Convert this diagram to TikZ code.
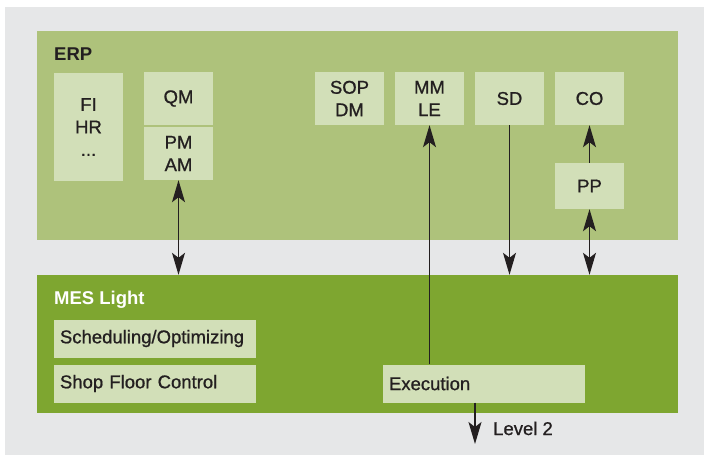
\documentclass[tikz,border=0pt]{standalone}
\usepackage{fontspec}
\setmainfont{Liberation Sans}
\newfontfamily\medfont[FakeBold=0.9]{Liberation Sans}
\usetikzlibrary{arrows.meta,calc}

\definecolor{bggray}{HTML}{E6E7E8}
\definecolor{erpgreen}{HTML}{AEC27B}
\definecolor{mesgreen}{HTML}{7EA630}
\definecolor{modfill}{HTML}{D2DFB8}
\definecolor{ink}{HTML}{231F20}

\tikzset{
  layer/.style={draw=none, inner sep=0pt},
  module/.style={fill=modfill, draw=none, inner sep=0pt, align=center,
    font=\medfont\fontsize{18.5}{22.5}\selectfont, text=ink},
  modwide/.style={fill=modfill, draw=none, inner xsep=6pt, inner ysep=0pt,
    minimum height=38pt, align=left,
    font=\medfont\fontsize{18.5}{22.5}\selectfont, text=ink},
  title/.style={inner sep=0pt, anchor=base west,
    font=\fontsize{18.5}{22}\selectfont\bfseries},
  tip/.tip={Stealth[length=22pt,width=13pt,inset=5pt]},
  flow/.style={line width=1.2pt, draw=ink, -tip},
  flowboth/.style={line width=1.2pt, draw=ink, tip-tip}
}

\begin{document}
\begin{tikzpicture}[x=1pt,y=-1pt]
  \useasboundingbox (0,0) rectangle (704,455);
  \fill[bggray] (5,7) rectangle (704,455);

  % the two layers
  \node[layer, fill=erpgreen, minimum width=641pt, minimum height=209pt] (erp) at (357.5,135.5) {};
  \node[layer, fill=mesgreen, minimum width=641pt, minimum height=138pt] (mes) at (357.5,344) {};
  \node[title, text=ink] (erpt) at (54,60) {ERP};
  \node[title, text=white] (mest) at (54,304) {MES Light};

  % ERP modules
  \node[module, minimum width=69pt, minimum height=108pt] (fihr) at (88.5,127) {FI\\HR\\...};
  \node[module, minimum width=69pt, minimum height=53pt] (qm) at (178.5,98.5) {QM};
  \node[module, minimum width=69pt, minimum height=53pt] (pmam) at (178.5,153.5) {PM\\AM};
  \node[module, minimum width=69pt, minimum height=53pt] (sopdm) at (349.5,98.5) {SOP\\DM};
  \node[module, minimum width=69pt, minimum height=53pt] (mmle) at (429.5,98.5) {MM\\LE};
  \node[module, minimum width=69pt, minimum height=53pt] (sd) at (509.5,98.5) {SD};
  \node[module, minimum width=69pt, minimum height=53pt] (co) at (589.5,98.5) {CO};
  \node[module, minimum width=69pt, minimum height=46pt] (pp) at (589.5,186) {PP};

  % MES modules
  \node[modwide, text width=190pt] (sched) at (155,338.5) {Scheduling/Optimizing};
  \node[modwide, text width=190pt] (shop) at (155,383.5) {Shop Floor Control};
  \node[modwide, text width=190pt] (exec) at (484,383.5) {Execution};

  % connections
  \draw[flowboth] (pmam.south) -- (pmam.south |- mes.north);
  \draw[flow] (exec.north -| mmle.south) -- (mmle.south);
  \draw[flow] (sd.south) -- (sd.south |- mes.north);
  \draw[flow] (pp.north) -- (co.south);
  \draw[flowboth] (pp.south) -- (pp.south |- mes.north);

  \coordinate (lvl) at (475,444);
  \draw[flow] (lvl |- exec.south) -- (lvl);
  \node[inner sep=0pt, anchor=base west, font=\medfont\fontsize{18.5}{22}\selectfont, text=ink] (lvlt) at (493,435) {Level 2};
\end{tikzpicture}
\end{document}
